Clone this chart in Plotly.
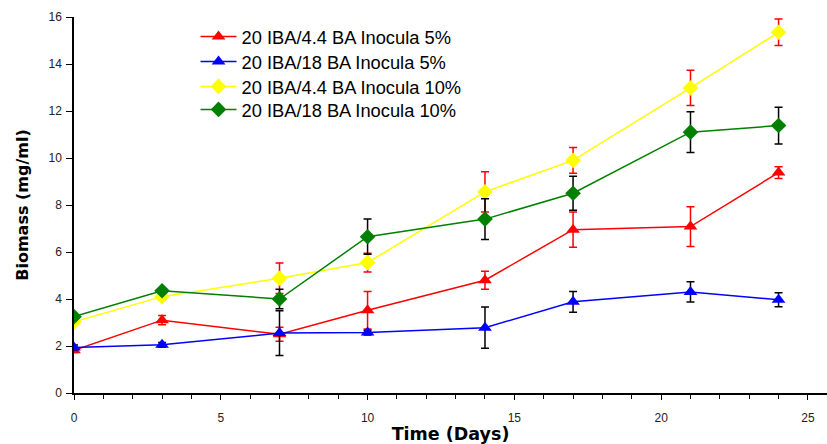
import plotly.graph_objects as go

days = [0, 3, 7, 10, 14, 17, 21, 24]

names = [
    "20 IBA/4.4 BA Inocula 5%",
    "20 IBA/18 BA Inocula 5%",
    "20 IBA/4.4 BA Inocula 10%",
    "20 IBA/18 BA Inocula 10%",
]

red_vals = [1.82, 3.1, 2.5, 3.52, 4.8, 6.95, 7.08, 9.38]
red_err = [0.1, 0.2, 0.3, 0.8, 0.38, 0.75, 0.85, 0.25]

blue_vals = [1.94, 2.05, 2.55, 2.57, 2.78, 3.88, 4.3, 3.97]
blue_err = [0.1, 0.1, 0.95, 0.1, 0.88, 0.44, 0.43, 0.3]

yellow_vals = [3.03, 4.1, 4.88, 5.55, 8.56, 9.9, 12.98, 15.35]
yellow_err = [0.1, 0.15, 0.65, 0.4, 0.86, 0.55, 0.75, 0.56]

green_vals = [3.25, 4.35, 4.0, 6.65, 7.4, 8.5, 11.1, 11.38]
green_err = [0.1, 0.1, 0.42, 0.75, 0.87, 0.72, 0.87, 0.78]

series = [
    (red_vals, red_err, "#FF0000", "#FF0000", "triangle-up"),
    (blue_vals, blue_err, "#0000FF", "#000000", "triangle-up"),
    (yellow_vals, yellow_err, "#FFFF00", "#FF0000", "diamond"),
    (green_vals, green_err, "#008000", "#000000", "diamond"),
]

legend_ids = ["legend", "legend2", "legend3", "legend4"]
legend_y = [0.9973, 0.9309, 0.8644, 0.8032]

fig = go.Figure()
for i, (vals, err, col, ecol, sym) in enumerate(series):
    fig.add_trace(go.Scatter(
        x=days, y=vals, name=names[i], mode="lines+markers",
        legend=legend_ids[i],
        line=dict(color=col, width=1.5),
        marker=dict(symbol=sym, size=12, color=col, line=dict(width=0)),
        error_y=dict(type="data", array=err, visible=True, color=ecol,
                     thickness=1.5, width=4),
    ))

font_family = "Liberation Sans, Arial, sans-serif"
title_family = "DejaVu Sans, Liberation Sans, sans-serif"

legend_style = dict(x=0.1614, xanchor="left", yanchor="top",
                    font=dict(size=18.3, family=font_family),
                    bgcolor="rgba(0,0,0,0)", itemwidth=36)

layout_legends = {}
for lid, ly in zip(legend_ids, legend_y):
    layout_legends[lid] = dict(legend_style, y=ly)

fig.update_layout(
    width=827, height=444,
    margin=dict(l=74, r=0, t=17, b=51),
    paper_bgcolor="white", plot_bgcolor="white",
    font=dict(family=font_family, color="#000000"),
    showlegend=True,
    **layout_legends,
    xaxis=dict(range=[0, 25.65], tickvals=[0, 5, 10, 15, 20, 25],
               showgrid=False, zeroline=False, showline=True,
               linecolor="black", linewidth=1.5,
               ticks="outside", ticklen=5, tickcolor="black", tickwidth=1.2,
               ticklabelstandoff=8,
               minor=dict(dtick=1, ticks="outside", ticklen=4,
                          tickcolor="black", tickwidth=1.2, showgrid=False),
               tickfont=dict(size=12, color="#222"),
               title=dict(text="<b>Time (Days)</b>",
                          font=dict(size=17.5, family=title_family), standoff=0)),
    yaxis=dict(range=[0, 16], tickvals=[0, 2, 4, 6, 8, 10, 12, 14, 16],
               showgrid=False, zeroline=False, showline=True,
               linecolor="black", linewidth=1.5,
               ticks="outside", ticklen=6, tickcolor="black", tickwidth=1.2,
               ticklabelstandoff=2,
               tickfont=dict(size=12, color="#222"),
               title=dict(text="<b>Biomass (mg/ml)</b>",
                          font=dict(size=16, family=title_family), standoff=16)),
)

fig.write_html("out.html")
